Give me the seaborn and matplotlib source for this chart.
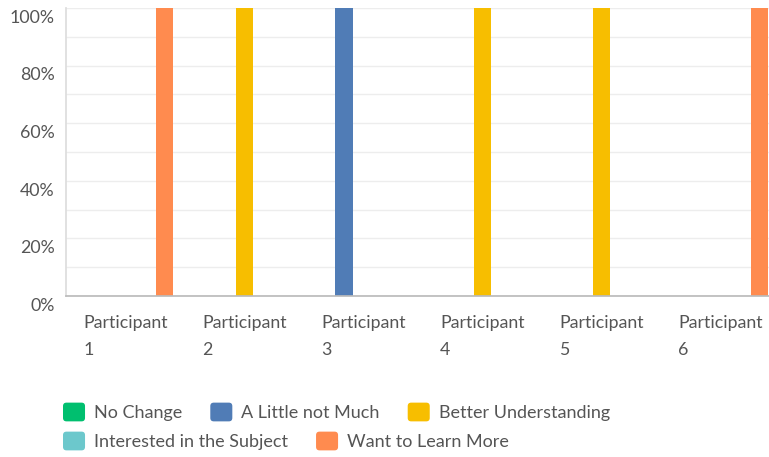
#!/usr/bin/env python3
"""Participant responses: share of each answer category."""

import matplotlib

matplotlib.use("Agg")

import matplotlib.pyplot as plt
import matplotlib.transforms as mtransforms
import pandas as pd
import seaborn as sns
from matplotlib.legend_handler import HandlerPatch
from matplotlib.patches import FancyBboxPatch, Patch
from matplotlib.ticker import MultipleLocator

participants = ["Participant 1", "Participant 2", "Participant 3",
                "Participant 4", "Participant 5", "Participant 6"]
series = ["No Change", "A Little not Much", "Better Understanding",
          "Interested in the Subject", "Want to Learn More"]

no_change = [0, 0, 0, 0, 0, 0]
a_little_not_much = [0, 0, 100, 0, 0, 0]
better_understanding = [0, 100, 0, 100, 100, 0]
interested_in_subject = [0, 0, 0, 0, 0, 0]
want_to_learn_more = [100, 0, 0, 0, 0, 100]

colors = ["#00BF6F", "#507CB6", "#F7BE00", "#6CC8CC", "#FF8B4F"]

values = [no_change, a_little_not_much, better_understanding,
          interested_in_subject, want_to_learn_more]
rows = []
for name, vals in zip(series, values):
    for participant, v in zip(participants, vals):
        rows.append({"participant": participant, "answer": name, "share": v})
df = pd.DataFrame(rows)


class RoundedSquare(HandlerPatch):
    # legend swatches with slightly rounded corners, like the original
    def create_artists(self, legend, orig_handle, xdescent, ydescent,
                       width, height, fontsize, trans):
        box = FancyBboxPatch((-xdescent + 1.5, -ydescent + 1.5), width - 3, height - 3,
                             boxstyle="round,pad=1.5,rounding_size=2.5",
                             facecolor=orig_handle.get_facecolor(),
                             edgecolor="none", transform=trans)
        return [box]


sns.set_theme(style="white")
plt.rcParams["font.family"] = ["Lato", "DejaVu Sans"]
text_color = "#555555"

fig = plt.figure(figsize=(7.69, 4.57), dpi=100)
ax = fig.add_axes([66 / 769, 161 / 457, 714 / 769, 288 / 457])

sns.barplot(data=df, x="participant", y="share", hue="answer",
            hue_order=series, order=participants, palette=colors,
            width=0.82, gap=0.12, linewidth=0, saturation=1,
            legend=False, ax=ax)

ax.set_xlim(-0.5, 5.5)
ax.set_ylim(0, 100)
ax.yaxis.set_major_locator(MultipleLocator(20))
ax.yaxis.set_minor_locator(MultipleLocator(10))
ax.set_yticklabels([f"{int(t)}%" for t in ax.get_yticks()])
ax.grid(True, which="both", axis="y", color="#EDEDED", linewidth=1)
ax.set_axisbelow(True)
ax.set_xlabel("")
ax.set_ylabel("")

ax.set_xticks(range(len(participants)))
ax.set_xticklabels([p.replace(" ", "\n") for p in participants],
                   multialignment="left", linespacing=1.85)
ax.tick_params(axis="x", length=0, pad=14, labelsize=12.8, labelcolor=text_color)
ax.tick_params(axis="y", length=0, pad=8, labelsize=12.8, labelcolor=text_color)
ax.tick_params(axis="y", which="minor", length=0)

# the y labels sit a little below their gridlines in the original
shift = mtransforms.ScaledTranslation(0, -6 / 72, fig.dpi_scale_trans)
for label in ax.get_yticklabels():
    label.set_transform(label.get_transform() + shift)

for side in ["top", "right"]:
    ax.spines[side].set_visible(False)
ax.spines["left"].set_color("#DDDDDD")
ax.spines["bottom"].set_color("#BBBBBB")

handles = [Patch(facecolor=c, edgecolor="none", label=s)
           for c, s in zip(colors, series)]
leg_kw = dict(frameon=False, handlelength=1.22, handleheight=1.22,
              handletextpad=0.5, columnspacing=1.55, fontsize=13,
              labelcolor=text_color, borderpad=0, borderaxespad=0,
              handler_map={Patch: RoundedSquare()})
fig.legend(handles=handles[:3], ncol=3, loc="center left",
           bbox_to_anchor=(63 / 769, 1 - 412 / 457), **leg_kw)
fig.legend(handles=handles[3:], ncol=2, loc="center left",
           bbox_to_anchor=(63 / 769, 1 - 441 / 457), **leg_kw)

fig.savefig("out.png", dpi=100)
